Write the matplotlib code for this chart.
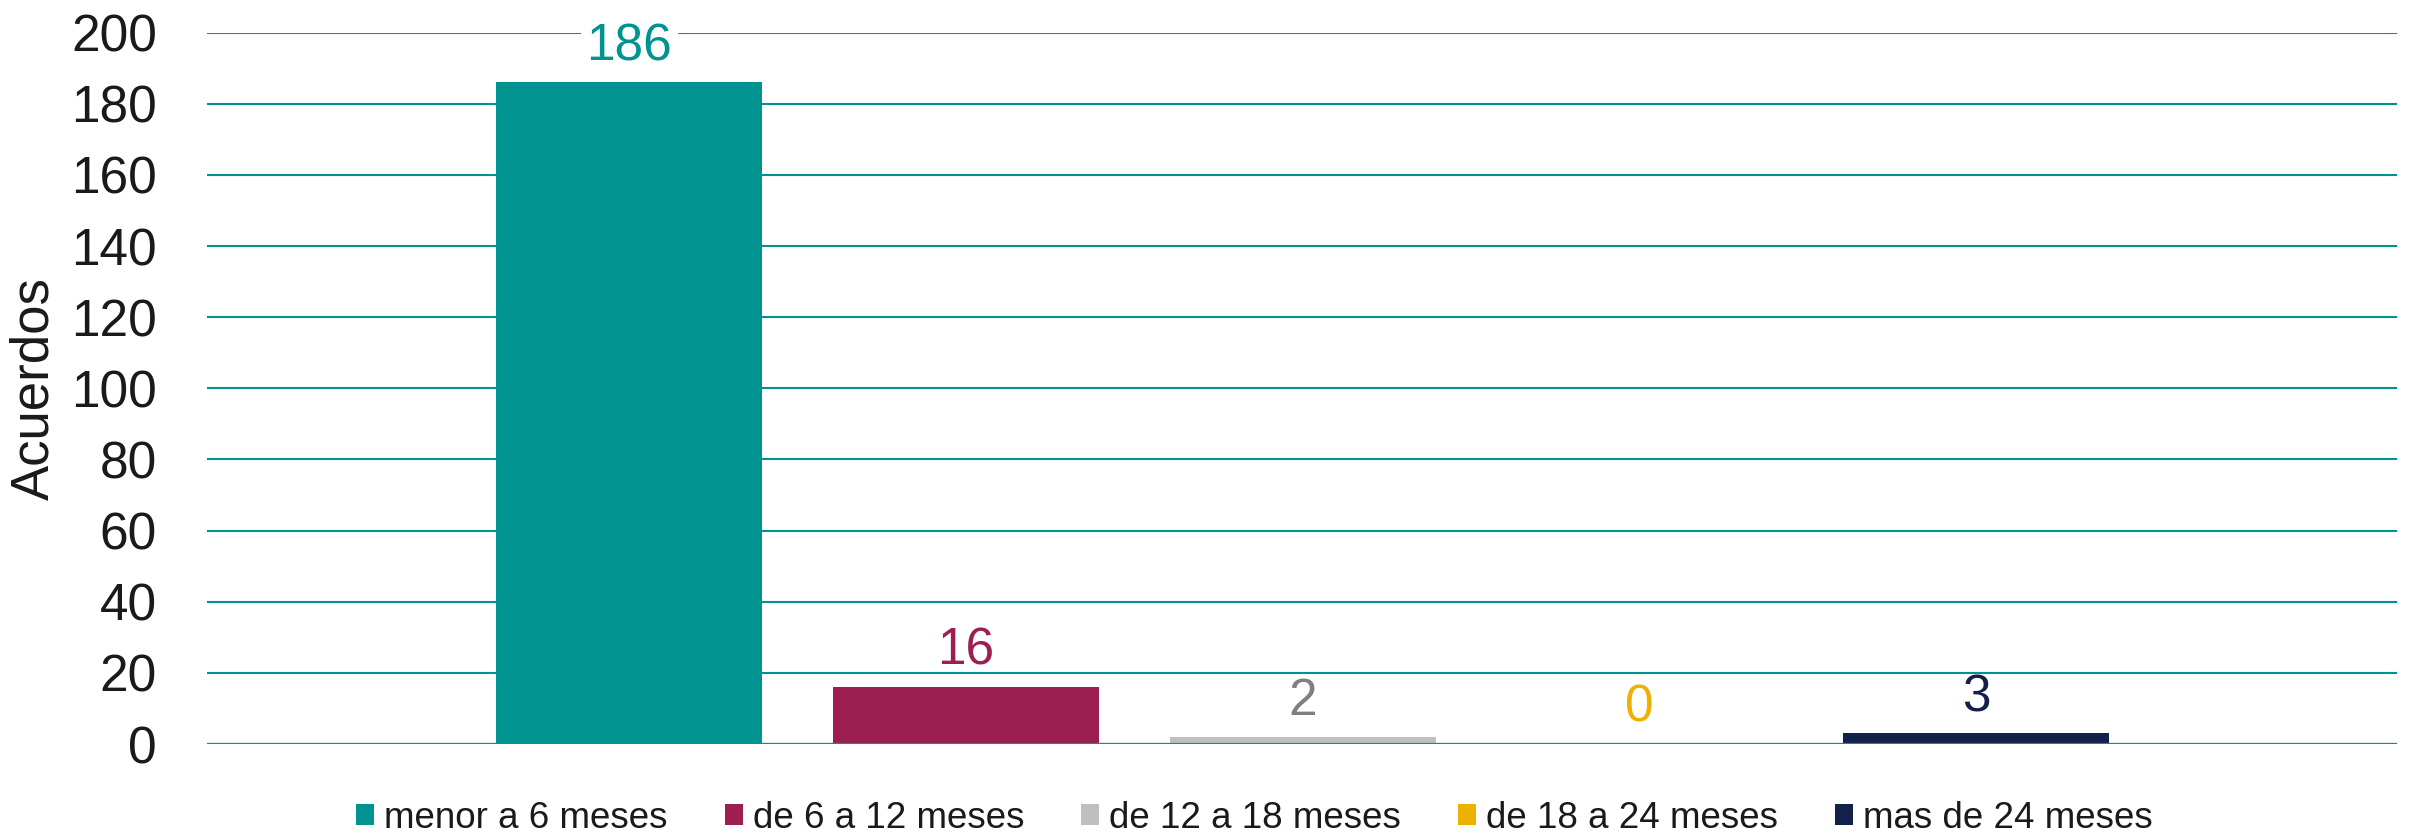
import matplotlib.pyplot as plt
from matplotlib.patches import Patch

plt.rcParams['font.family'] = ['Liberation Sans', 'DejaVu Sans']

categorias = ['menor a 6 meses', 'de 6 a 12 meses', 'de 12 a 18 meses',
              'de 18 a 24 meses', 'mas de 24 meses']
acuerdos = [186, 16, 2, 0, 3]
cores = ['#009390', '#9D1F52', '#BFBFBF', '#EDB100', '#13204A']
cores_rotulo = ['#009390', '#9D1F52', '#7F7F7F', '#EDB100', '#13204A']
ticks_y = [0, 20, 40, 60, 80, 100, 120, 140, 160, 180, 200]

teal = '#009390'

fig = plt.figure(figsize=(24.2, 8.36), dpi=100)
ax = fig.add_axes([0.0855, 0.110, 0.905, 0.851])

pos = list(range(len(categorias)))
ax.bar(pos, acuerdos, width=0.79, color=cores, zorder=2)

# rotulos de dados
for x, v, c in zip(pos, acuerdos, cores_rotulo):
    caixa = dict(facecolor='white', edgecolor='none', pad=4) if v == max(acuerdos) else None
    ax.annotate(str(v), (x, v), xytext=(0, 16), textcoords='offset points',
                ha='center', va='baseline', fontsize=37, color=c,
                bbox=caixa, zorder=4)

ax.set_ylim(0, 200)
ax.set_xlim(-1.255, 5.25)
ax.set_yticks(ticks_y)
ax.set_xticks([])
ax.tick_params(axis='y', length=0, pad=36, labelsize=37, labelcolor='#1A1A1A')
ax.yaxis.grid(True, color=teal, linewidth=1.5, zorder=1)
ax.set_axisbelow(True)
ax.axhline(0, color=teal, linewidth=1.6, zorder=3)
for s in ax.spines.values():
    s.set_visible(False)

ax.set_ylabel('Acuerdos', fontsize=38, color='#1A1A1A')
ax.yaxis.set_label_coords((34 - 207) / 2193, 0.5)
ax.yaxis.label.set_verticalalignment('center')

handles = [Patch(facecolor=c, edgecolor='none', label=l) for c, l in zip(cores, categorias)]
fig.legend(handles=handles, loc='center', bbox_to_anchor=(0.5184, 0.021),
           ncol=5, frameon=False, fontsize=26.5, handlelength=0.49,
           handleheight=0.49, handletextpad=0.27, columnspacing=1.55,
           borderpad=0, labelcolor='#1A1A1A')

fig.savefig('out.png', dpi=100)
